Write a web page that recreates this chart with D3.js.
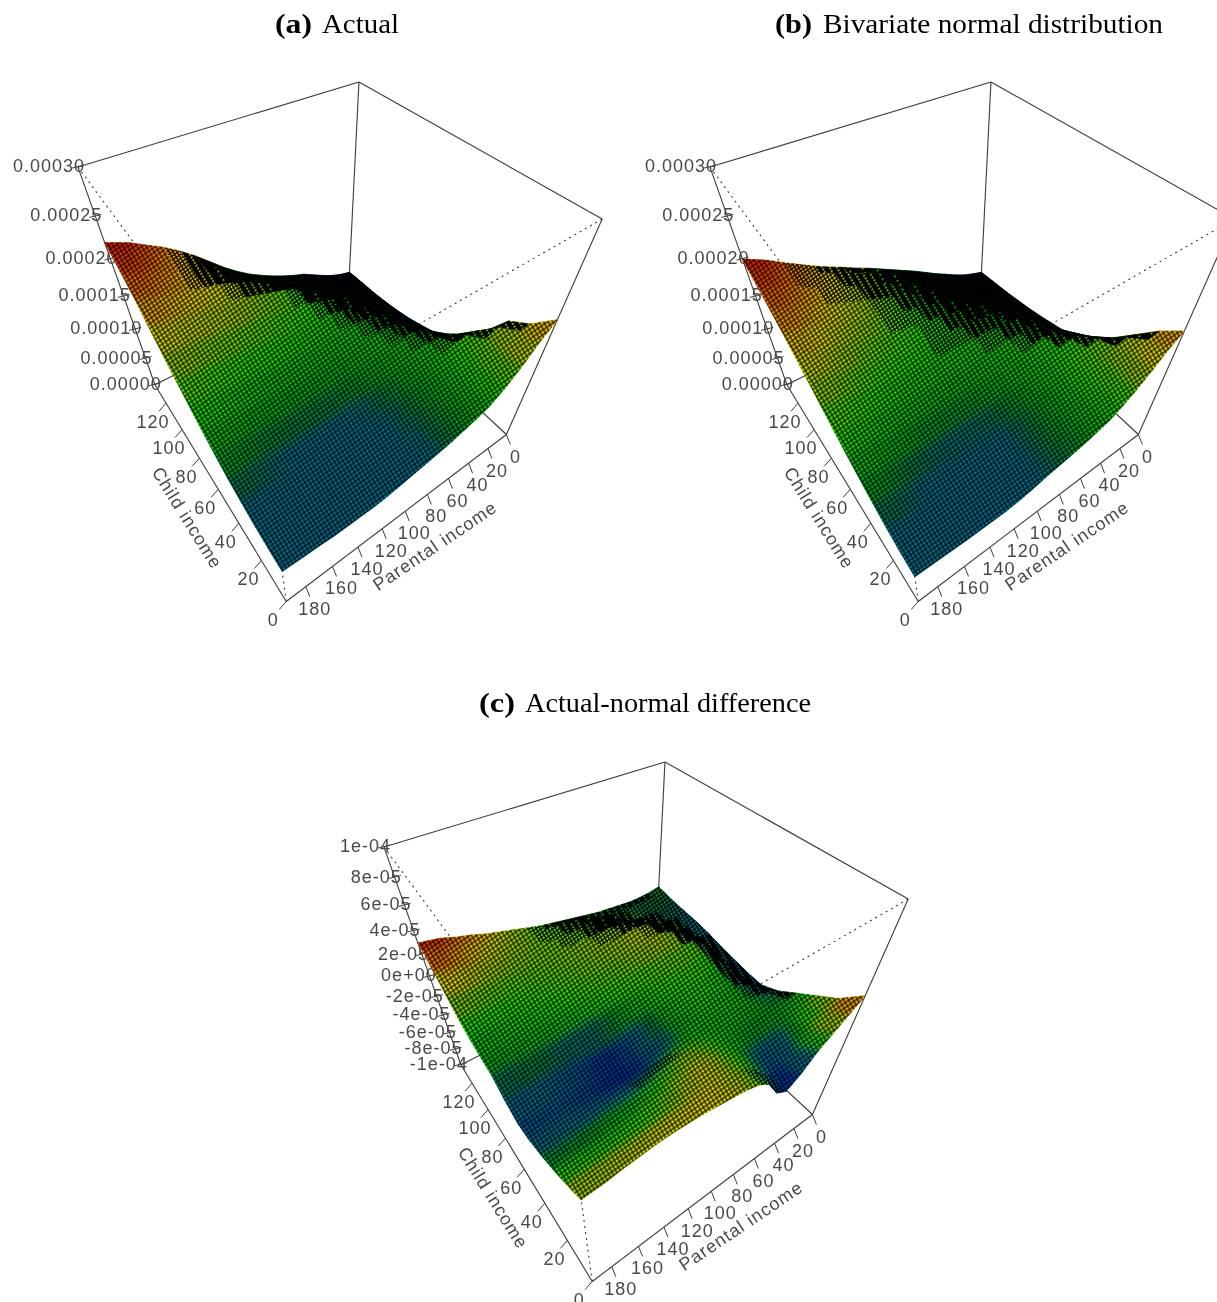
<!DOCTYPE html>
<html><head><meta charset="utf-8">
<script src="https://cdn.jsdelivr.net/npm/d3@7/dist/d3.min.js"></script>
<style>html,body{margin:0;background:#fff}svg{display:block}</style></head>
<body><svg id="c" width="1217" height="1302"></svg>
<script>
// ---- data: density in units of 1e-5, rows = child income, columns = parental income
const parentalGrid=[0,10,20,30,40,50,60,70,80,90,100,110,120,130,140,150,160,170,180,194];
const childGrid=[0,10,20,30,40,50,60,70,80,90,100,110,120,130,135];
const actualZ=[
[19,17,14.5,12.5,11,10.2,9.6,9,8.6,8.2,7.9,7.5,7.2,7,7,7,7,7.2,7.3,7.5],
[16.5,16.5,14.5,12.8,11.3,10.3,9.7,9.2,8.7,8.2,7.8,7.4,7.2,7.1,7.1,7.2,7.3,7.4,7.5,7.7],
[15,15,14.3,13,11.6,10.6,9.9,9.3,8.8,8.3,7.9,7.6,7.4,7.3,7.4,7.5,7.6,7.7,7.9,8],
[11.5,12.5,12.8,12.6,11.8,10.9,10.2,9.5,9,8.5,8.1,7.9,7.8,7.7,7.8,7.9,8,8.2,8.4,8.6],
[8.5,10,11,11.5,11.5,11.1,10.6,10,9.6,9.2,8.9,8.7,8.6,8.6,8.6,8.6,8.7,8.9,9.1,9.3],
[6.5,8,9.5,10.6,11.2,11.2,11,10.7,10.4,10.1,9.9,9.7,9.6,9.6,9.6,9.6,9.7,9.9,10.1,10.3],
[5.5,6.8,8.6,9.8,10.7,11.1,11.2,11.2,11,10.8,10.6,10.5,10.4,10.4,10.4,10.5,10.7,11,11.2,11.4],
[4.8,6,7.8,9.2,10.2,10.9,11.3,11.5,11.4,11.3,11.3,11.3,11.4,11.5,11.6,11.8,12,12.2,12.5,12.8],
[4.2,5.4,7.2,8.8,9.8,10.6,11.2,11.7,12,12.2,12.4,12.6,12.8,13,13.1,13.2,13.4,13.6,13.9,14.2],
[3.8,5,6.7,8.2,9.3,10.2,11,11.7,12.2,12.8,13.1,13.4,13.7,14,14.3,14.6,14.8,15,15.3,15.6],
[3.5,4.6,6,7.3,8.4,9.4,10.3,11.2,12.1,13.2,13.9,14.4,14.9,15.4,15.9,16.2,16.4,16.6,16.9,17.3],
[3.3,4.2,5.2,6.3,7.4,8.5,9.4,10.4,11.4,12.6,13.4,14.2,15,15.8,16.4,16.8,17.2,17.7,18.3,19],
[3.2,3.8,4.6,5.5,6.5,7.5,8.2,9.2,10.2,11.2,12.1,13.1,14.1,15.2,16.2,17,17.9,18.7,19.6,20.4],
[3.1,3.5,4.2,5,5.9,6.8,7.4,8.1,8.9,9.8,10.8,12,13.3,14.8,16.2,17.5,18.6,19.6,20.6,21.5],
[3,3.4,4,4.8,5.7,6.6,7.2,7.9,8.7,9.6,10.6,11.8,13.2,14.8,16.4,17.8,19,20,21,22]];
const normalZ=[
[17.5,16,14,12.2,10.7,9.5,8.9,8.3,7.9,7.5,7.1,6.6,6.2,6,6,6,6,6.1,6.2,6.3],
[15.5,15.2,14,12.5,11,9.8,9.1,8.5,8,7.5,7.1,6.7,6.3,6.2,6.2,6.2,6.3,6.4,6.5,6.6],
[13,13.5,13.2,12.3,11.2,10.1,9.3,8.7,8.1,7.6,7.2,6.8,6.5,6.5,6.5,6.6,6.7,6.9,7,7.2],
[10.5,11.5,12.2,12,11.2,10.3,9.4,8.7,8.1,7.6,7.2,6.9,6.8,6.8,6.9,7,7.2,7.5,7.8,8],
[8.5,9.7,10.8,11.2,10.9,10.3,9.7,9.2,8.7,8.3,8,7.8,7.7,7.7,7.7,7.8,8,8.3,8.7,9],
[7,8.3,9.5,10.3,10.5,10.3,10,9.7,9.4,9.1,8.9,8.8,8.8,8.8,8.9,9,9.2,9.4,9.8,10.1],
[5.5,7,8.5,9.5,9.9,10.1,10.1,10,9.9,9.7,9.6,9.6,9.6,9.7,9.8,9.9,10.1,10.5,10.9,11.3],
[5,6.2,7.6,8.8,9.5,9.8,10,10.1,10.2,10.2,10.3,10.4,10.5,10.6,10.8,11,11.3,11.7,12.1,12.6],
[4.5,5.5,6.9,8.1,8.9,9.4,9.7,10,10.2,10.4,10.6,10.8,11,11.2,11.5,11.8,12.2,12.8,13.4,14],
[4.1,5,6.2,7.3,8.2,8.9,9.4,9.9,10.3,10.7,11,11.3,11.6,12,12.4,12.8,13.4,14,14.6,15.2],
[3.8,4.6,5.6,6.6,7.5,8.3,9,9.6,10.2,10.7,11.2,11.6,12.1,12.6,13.2,13.8,14.4,15.1,15.8,16.4],
[3.5,4.2,5,6,6.9,7.8,8.6,9.4,10.1,10.8,11.4,12,12.6,13.3,13.9,14.6,15.3,16,16.8,17.5],
[3.3,3.9,4.6,5.4,6.3,7.2,8.1,9,9.9,10.7,11.5,12.2,12.9,13.6,14.4,15.1,15.9,16.8,17.7,18.5],
[3.1,3.6,4.2,5,5.9,6.8,7.8,8.8,9.7,10.6,11.5,12.3,13.1,13.9,14.7,15.5,16.4,17.4,18.4,19.4],
[3,3.5,4.1,4.9,5.8,6.7,7.7,8.7,9.6,10.5,11.4,12.3,13.1,14,14.8,15.7,16.7,17.7,18.8,20]];
const diffZ=[
[3,2,1,0,-1.5,-2.5,-1.8,0,.8,1.2,1.4,1.6,1.8,1.9,2,2,1.9,1.8,1.6,1.5],
[1.5,1,0,-1.2,-2.2,-2.4,-1.5,-.2,.6,1,1.3,1.4,1.1,.9,.7,.6,.5,.5,.5,.5],
[.5,.2,-.5,-.6,-1,-1,-.5,-.1,.5,1.1,1.4,1.3,.6,.2,0,-.2,-.3,-.4,-.4,-.4],
[-.5,-.5,-.6,-.5,-.3,-.3,-.3,-.2,.1,.4,.5,.2,-.2,-.5,-.7,-.8,-.9,-1,-1,-1.1],
[-1.5,-1.1,-.8,-.5,-.3,-.2,-.2,-.2,-.3,-.6,-1.2,-1.7,-2,-2,-1.9,-1.8,-1.7,-1.6,-1.6,-1.7],
[-2.1,-1.5,-.9,-.4,-.1,0,0,-.1,-.3,-.7,-1.6,-2.3,-2.6,-2.6,-2.4,-2.2,-2,-1.9,-1.8,-1.9],
[-2,-1.5,-.8,-.2,.1,.2,.2,.1,-.1,-.4,-.8,-1.2,-1.6,-1.7,-1.6,-1.5,-1.3,-1.2,-1.2,-1.4],
[-1.8,-1.3,-.6,.1,.4,.5,.4,.3,.2,.2,.1,0,-.2,-.3,-.4,-.5,-.5,-.5,-.5,-.6],
[-1.6,-1.2,-.3,.5,.7,.8,.8,.7,.6,.5,.4,.3,.2,.1,0,-.1,-.1,-.2,-.3,-.4],
[-1.3,-1.1,-.6,.2,.9,1.2,1.2,1.1,.9,.8,.7,.6,.5,.4,.3,.2,.1,0,0,-.1],
[-1.1,-1.1,-.9,-.4,.5,1.1,1.2,1.1,1,1,.9,.8,.7,.6,.5,.4,.4,.4,.4,.4],
[-1,-1,-.9,-.8,-.3,.4,.7,.8,.8,.8,.8,.8,.7,.7,.7,.7,.7,.8,1,1.2],
[-.9,-.9,-.9,-.9,-.8,-.5,-.1,.2,.3,.5,.6,.6,.7,.8,.9,1,1.2,1.4,1.7,2],
[-.7,-.8,-.8,-.8,-.8,-.7,-.5,-.3,0,.2,.4,.5,.7,.9,1.1,1.4,1.7,2,2.4,2.8],
[-.6,-.8,-.9,-.9,-.8,-.7,-.6,-.4,-.2,0,.2,.4,.7,1,1.3,1.6,2,2.3,2.7,3]];
const parentalTicks=[0,20,40,60,80,100,120,140,160,180];
const childTicks=[0,20,40,60,80,100,120];
const densityTicks=[0,5,10,15,20,25,30];
const densityLabels=["0.00000","0.00005","0.00010","0.00015","0.00020","0.00025","0.00030"];
const diffTicks=[-10,-8,-6,-4,-2,0,2,4,6,8,10];
const diffLabels=["-1e-04","-8e-05","-6e-05","-4e-05","-2e-05","0e+00","2e-05","4e-05","6e-05","8e-05","1e-04"];
const paletteStops=[0,.08,.2,.28,.31,.37,.5,.62,.72,.84,1];
const paletteColors=["#0000b8","#0030a8","#007094","#007490","#00804e","#00b414","#20e800","#98d800","#e8dc00","#f88000","#e00000"];

// ---- layout
const svg=d3.select("#c");
const defs=svg.append("defs");
const AX="#3c3c3c", TXT="#4a4a4a";
// box corners on screen for unit cube [u=parental, v=child, w=z]
const corners=[[0,0,0,508,438],[1,0,0,282,597],[1,1,0,155,387],[0,1,0,350,286],
               [0,0,1,600,213],[1,0,1,268,424],[1,1,1,78,163],[0,1,1,357,85]];
function fitCamera(pts){
  const n=11,A=d3.range(n).map(()=>new Array(n+1).fill(0));
  const add=(r,b)=>{for(let i=0;i<n;i++){for(let j=0;j<n;j++)A[i][j]+=r[i]*r[j];A[i][n]+=r[i]*b;}};
  pts.forEach(([U,V,W,x,y])=>{
    add([U,V,W,1,0,0,0,0,-x*U,-x*V,-x*W],x);
    add([0,0,0,0,U,V,W,1,-y*U,-y*V,-y*W],y);});
  for(let i=0;i<n;i++){
    let m=i;for(let k=i+1;k<n;k++)if(Math.abs(A[k][i])>Math.abs(A[m][i]))m=k;
    [A[i],A[m]]=[A[m],A[i]];
    for(let k=0;k<n;k++)if(k!==i){const f=A[k][i]/A[i][i];for(let j=i;j<=n;j++)A[k][j]-=f*A[i][j];}
  }
  return A.map((r,i)=>r[n]/r[i]);
}
const h=fitCamera(corners);
const project=(u,v,w)=>{const d=h[8]*u+h[9]*v+h[10]*w+1;
  return [(h[0]*u+h[1]*v+h[2]*w+h[3])/d,(h[4]*u+h[5]*v+h[6]*w+h[7])/d];};

// lattice patterns following the two ground directions of the mesh
const nrm=(a,b)=>{const l=Math.hypot(a,b);return [a/l,b/l];};
const d1=nrm(226,-159),d2=nrm(-127,-214);
const tf=`matrix(${d1[0]} ${d1[1]} ${d2[0]} ${d2[1]} 0 0)`;
function lattice(id,w,hh,dot){
  const p=defs.append("pattern").attr("id",id).attr("patternUnits","userSpaceOnUse")
    .attr("width",w).attr("height",hh).attr("patternTransform",tf);
  p.append("rect").attr("width",w).attr("height",hh).attr("fill","#000");
  p.append("rect").attr("x",.6).attr("y",.6).attr("width",dot).attr("height",dot).attr("fill","#fff");
}
lattice("L0",4,4,2.9);
lattice("L1",3.4,3.4,2.1);
lattice("L2",6.4,3.2,1.7);
lattice("L3",12,5,1.6);
defs.append("filter").attr("id","soft").attr("x","-5%").attr("y","-5%").attr("width","110%").attr("height","110%")
  .append("feGaussianBlur").attr("stdDeviation",.45);
defs.append("filter").attr("id","wide").attr("x","-5%").attr("y","-5%").attr("width","110%").attr("height","110%")
  .append("feGaussianBlur").attr("stdDeviation",5);
defs.append("filter").attr("id","lat").attr("x","-5%").attr("y","-5%").attr("width","110%").attr("height","110%")
  .append("feGaussianBlur").attr("stdDeviation",.25);

const scaleP=d3.scaleLinear().domain([0,194]).range([0,1]);
const scaleC=d3.scaleLinear().domain([0,135]).range([0,1]);

function panel(id,dx,dy,Z,zDom,zTicks,zLabels,colDom,dens){
  const g=svg.append("g").attr("transform",`translate(${dx},${dy})`);
  const scaleZ=d3.scaleLinear().domain(zDom).range([0,1]);
  const t=d3.scaleLinear().domain(colDom).range([0,1]);
  const col=d3.scaleLinear().domain(paletteStops).range(paletteColors).clamp(true);
  const P=(a,b,c)=>project(a,b,c);
  const axes=g.append("g").attr("filter","url(#soft)");
  const seg=(a,b,dash)=>{const[p,q]=[P(...a),P(...b)];
    axes.append("line").attr("x1",p[0]).attr("y1",p[1]).attr("x2",q[0]).attr("y2",q[1])
      .attr("stroke",AX).attr("stroke-width",1.1).attr("stroke-dasharray",dash?"2 4":null);};
  [[[0,1,1],[1,1,1]],[[0,1,1],[0,0,1]],[[1,1,1],[1,1,0]],[[0,1,1],[0,1,0]],[[0,0,1],[0,0,0]],
   [[1,1,0],[1,0,0]],[[1,0,0],[0,0,0]],[[1,1,0],[0,1,0]],[[0,1,0],[0,0,0]]].forEach(e=>seg(e[0],e[1]));
  [[[1,1,1],[1,0,1]],[[0,0,1],[1,0,1]],[[1,0,0],[1,0,1]]].forEach(e=>seg(e[0],e[1],true));
  const txt=(x,y,s,rot)=>axes.append("text").attr("x",x).attr("y",y).text(s)
      .attr("font-family","'Liberation Sans',Arial,sans-serif").attr("font-size",18).attr("letter-spacing",1)
      .attr("fill",TXT).attr("text-anchor","middle").attr("dominant-baseline","central")
      .attr("transform",rot?`rotate(${rot} ${x} ${y})`:null);
  const tick=(p,a,b)=>axes.append("line").attr("x1",p[0]).attr("y1",p[1]).attr("x2",p[0]+a).attr("y2",p[1]+b)
      .attr("stroke",AX).attr("stroke-width",1);
  parentalTicks.forEach(v=>{const p=P(scaleP(v),0,0);tick(p,4,10);txt(p[0]+9,p[1]+22,v);});
  childTicks.forEach(v=>{const p=P(1,scaleC(v),0);tick(p,-7,8);txt(p[0]-13,p[1]+18.5,v);});
  zTicks.forEach((v,i)=>{const p=P(1,1,scaleZ(v));
    axes.append("line").attr("x1",p[0]-6).attr("y1",p[1]+1).attr("x2",p[0]+6).attr("y2",p[1]-2).attr("stroke",AX);
    axes.append("text").attr("x",p[0]+7).attr("y",p[1]-1).text(zLabels[i])
      .attr("font-family","'Liberation Sans',Arial,sans-serif").attr("font-size",18).attr("letter-spacing",1)
      .attr("fill",TXT).attr("text-anchor","end").attr("dominant-baseline","central");});
  txt(187,518,"Child income",58);
  txt(435,546,"Parental income",-34);

  // surface quads, painted from the far corner to the near corner
  const quads=[];
  parentalGrid.slice(0,-1).forEach((p,i)=>{
    for(let j=childGrid.length-2;j>=0;j--){
      const nodes=[[i,j],[i+1,j],[i+1,j+1],[i,j+1]];
      const pts=nodes.map(([a,b])=>P(scaleP(parentalGrid[a]),scaleC(childGrid[b]),scaleZ(Z[b][a])));
      const mean=d3.mean(nodes,([a,b])=>Z[b][a]);
      quads.push({pts,mean,area:Math.abs(d3.polygonArea(pts))/ (childGrid[j+1]-childGrid[j])*10});
    }
  });
  const path=d=>"M"+d.pts.map(p=>p.join(",")).join("L")+"Z";
  const clipId="clip"+id;
  const cp=defs.append("clipPath").attr("id",clipId);
  cp.selectAll("path").data(quads).join("path").attr("d",path);
  const fill=d=>col(t(d.mean));
  const surf=g.append("g");
  surf.append("g").selectAll("path").data(quads).join("path").attr("d",path)
    .attr("fill",fill).attr("stroke",fill).attr("stroke-width",.7);
  surf.append("g").attr("clip-path",`url(#${clipId})`).append("g").attr("filter","url(#wide)")
    .selectAll("path").data(quads).join("path").attr("d",path)
    .attr("fill",fill).attr("stroke",fill).attr("stroke-width",.7);
  const lev=a=>a>205*dens?"url(#L0)":a>165*dens?"url(#L1)":a>125*dens?"url(#L2)":a>90*dens?"url(#L3)":"#000";
  const shade=surf.append("g").style("mix-blend-mode","multiply").append("g").attr("filter","url(#lat)");
  shade.selectAll("path").data(quads).join("path").attr("d",path)
    .attr("fill",d=>lev(d.area)).attr("stroke",d=>lev(d.area)).attr("stroke-width",.6);
}
panel("a",0,0,actualZ,[0,30],densityTicks,densityLabels,[3,22],1.22);
panel("b",632,0,normalZ,[0,30],densityTicks,densityLabels,[2,20],1.22);
panel("c",306,680,diffZ,[-10,10],diffTicks,diffLabels,[-2.7,3.1],.85);

function title(x1,lab,lw,x2,s,w,y){
  svg.append("text").attr("x",x1).attr("y",y).text(lab).attr("font-family","'Liberation Serif',serif")
    .attr("font-weight","bold").attr("font-size",28).attr("fill","#000").attr("textLength",lw).attr("lengthAdjust","spacingAndGlyphs");
  svg.append("text").attr("x",x2).attr("y",y).text(s).attr("font-family","'Liberation Serif',serif")
    .attr("font-size",28).attr("fill","#000").attr("textLength",w).attr("lengthAdjust","spacingAndGlyphs");
}
title(275,"(a)",37,322,"Actual",77,33);
title(775,"(b)",37,823,"Bivariate normal distribution",340,33);
title(479,"(c)",36,525,"Actual-normal difference",286,712);
</script></body></html>
